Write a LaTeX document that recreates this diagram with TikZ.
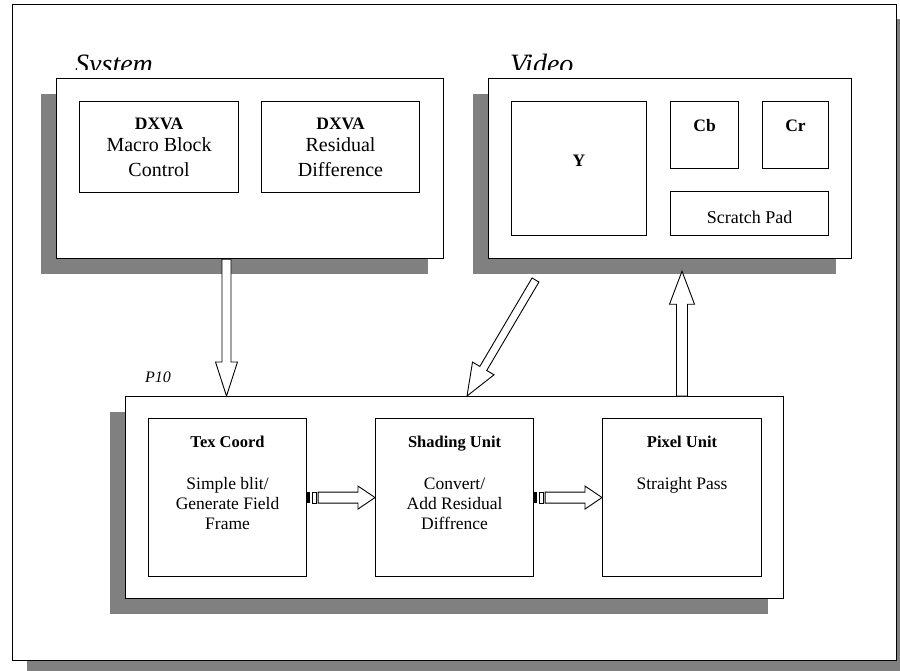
\documentclass[tikz,border=0pt]{standalone}
\usepackage{fontspec}
\setmainfont{Liberation Serif}
\usetikzlibrary{calc,shadows}

\definecolor{shadowgray}{RGB}{128,128,128}

% solid block arrow: tail, tip, half shaft width, half head width, head length
\newcommand\blockarrow[5]{%
  \path ($(#2)!#5!(#1)$) coordinate (hb);
  \draw[arrowline] ($(#1)!#3!90:(#2)$) -- ($(hb)!#3!90:(#2)$) -- ($(hb)!#4!90:(#2)$)
    -- (#2) -- ($(hb)!#4!-90:(#2)$) -- ($(hb)!#3!-90:(#2)$) -- ($(#1)!#3!-90:(#2)$) -- cycle;}

% striped block arrow between two box sides
\newcommand\stripedarrow[2]{%
  \fill[black] ($(#1)+(0,-5.5)$) rectangle ($(#1)+(3,5.5)$);
  \draw[arrowline] ($(#1)+(5,-5.5)$) rectangle ($(#1)+(9,5.5)$);
  \path ($(#1)+(11,0)$) coordinate (st);
  \blockarrow{st}{#2}{5.5pt}{11.5pt}{17pt}}

\tikzset{
  box/.style={draw=black, fill=white, line width=1.2pt, inner sep=0pt, anchor=north west},
  inbox/.style={box, line width=1.1pt},
  shadowed/.style={drop shadow={shadow xshift=-16pt, shadow yshift=-15pt, fill=shadowgray, opacity=1}},
  arrowline/.style={draw=black, fill=white, line width=0.9pt, line join=miter},
  title/.style={font=\fontsize{28}{32}\selectfont\itshape, anchor=base west, inner sep=0pt},
  head/.style={font=\fontsize{17.5}{20}\selectfont\bfseries, anchor=base, inner sep=0pt},
  bigtxt/.style={font=\fontsize{20}{24}\selectfont, anchor=base, inner sep=0pt},
  txt/.style={font=\fontsize{17.5}{20}\selectfont, anchor=base, inner sep=0pt},
}

\begin{document}
\begin{tikzpicture}[x=1pt,y=-1pt]
\useasboundingbox (0,0) rectangle (900,671);
\clip (0,0) rectangle (900,671);

% outer frame
\node[box, line width=1.4pt, minimum width=884pt, minimum height=656pt,
  drop shadow={shadow xshift=14pt, shadow yshift=-14pt, fill=shadowgray, opacity=1}]
  (frame) at (12,4) {};

% system memory
\node[box, shadowed, minimum width=387pt, minimum height=180pt] (sys) at (56,78) {};
\begin{scope}
  \clip (0,0) rectangle (900,70);
  \node[title] (systitle) at (75,73.5) {System};
  \node[title] (vidtitle) at (510,73.5) {Video};
\end{scope}
\node[inbox, minimum width=159pt, minimum height=91pt] (mbc) at (79,101) {};
\node[inbox, minimum width=158pt, minimum height=91pt] (rd) at (261,101) {};
\node[head] (mbcA) at ($(mbc.north)+(0,29)$) {DXVA};
\node[bigtxt] (mbcB) at ($(mbc.north)+(0,51)$) {Macro Block};
\node[bigtxt] (mbcC) at ($(mbc.north)+(0,76)$) {Control};
\node[head] (rdA) at ($(rd.north)+(0,29)$) {DXVA};
\node[bigtxt] (rdB) at ($(rd.north)+(0,51)$) {Residual};
\node[bigtxt] (rdC) at ($(rd.north)+(0,76)$) {Difference};

% video memory
\node[box, shadowed, minimum width=363pt, minimum height=180pt] (vid) at (488,78) {};
\node[inbox, minimum width=135pt, minimum height=134pt] (ybox) at (511,101) {};
\node[inbox, minimum width=68pt, minimum height=67pt] (cb) at (670,101) {};
\node[inbox, minimum width=66pt, minimum height=67pt] (cr) at (762,101) {};
\node[inbox, minimum width=158pt, minimum height=44pt] (pad) at (670,191) {};
\node[head] (yT) at ($(ybox.north)+(0,66)$) {Y};
\node[head] (cbT) at ($(cb.north)+(0,31)$) {Cb};
\node[head] (crT) at ($(cr.north)+(0,31)$) {Cr};
\node[txt, font=\fontsize{18}{20}\selectfont] (padT) at ($(pad.north)+(0,32.5)$) {Scratch Pad};

% P10 pipeline
\node[box, shadowed, minimum width=658pt, minimum height=202pt] (p10) at (125,396) {};
\node[title, font=\fontsize{16}{18}\selectfont\itshape] (p10T) at (145,382) {P10};
\node[inbox, minimum width=158pt, minimum height=158pt] (tex) at (148,418) {};
\node[inbox, minimum width=158pt, minimum height=158pt] (shade) at (375,418) {};
\node[inbox, minimum width=159pt, minimum height=158pt] (pix) at (602,418) {};
\node[head, font=\fontsize{16.5}{20}\selectfont\bfseries] (texA) at ($(tex.north)+(0,29)$) {Tex Coord};
\node[txt] (texB) at ($(tex.north)+(0,71)$) {Simple blit/};
\node[txt] (texC) at ($(tex.north)+(0,91)$) {Generate Field};
\node[txt] (texD) at ($(tex.north)+(0,111)$) {Frame};
\node[head, font=\fontsize{16.5}{20}\selectfont\bfseries] (shA) at ($(shade.north)+(0,29)$) {Shading Unit};
\node[txt] (shB) at ($(shade.north)+(0,71)$) {Convert/};
\node[txt] (shC) at ($(shade.north)+(0,91)$) {Add Residual};
\node[txt] (shD) at ($(shade.north)+(0,111)$) {Diffrence};
\node[head, font=\fontsize{16.5}{20}\selectfont\bfseries] (pxA) at ($(pix.north)+(0,29)$) {Pixel Unit};
\node[txt] (pxB) at ($(pix.north)+(0,71)$) {Straight Pass};

% data paths
\coordinate (a1t) at ($(sys.south west)+(170.5,0)$);
\coordinate (a1h) at (a1t |- p10.north);
\blockarrow{a1t}{a1h}{4.5pt}{11pt}{34pt}

\coordinate (a2t) at (535.5,280);
\coordinate (a2h) at ($(p10.north west)+(342,0)$);
\blockarrow{a2t}{a2h}{4pt}{12.5pt}{32pt}

\coordinate (a3t) at ($(p10.north west)+(557,0)$);
\coordinate (a3h) at ($(vid.south west)+(194,12)$);
\blockarrow{a3t}{a3h}{5.5pt}{12.5pt}{33pt}

\stripedarrow{tex.east}{shade.west}
\stripedarrow{shade.east}{pix.west}
\end{tikzpicture}
\end{document}
